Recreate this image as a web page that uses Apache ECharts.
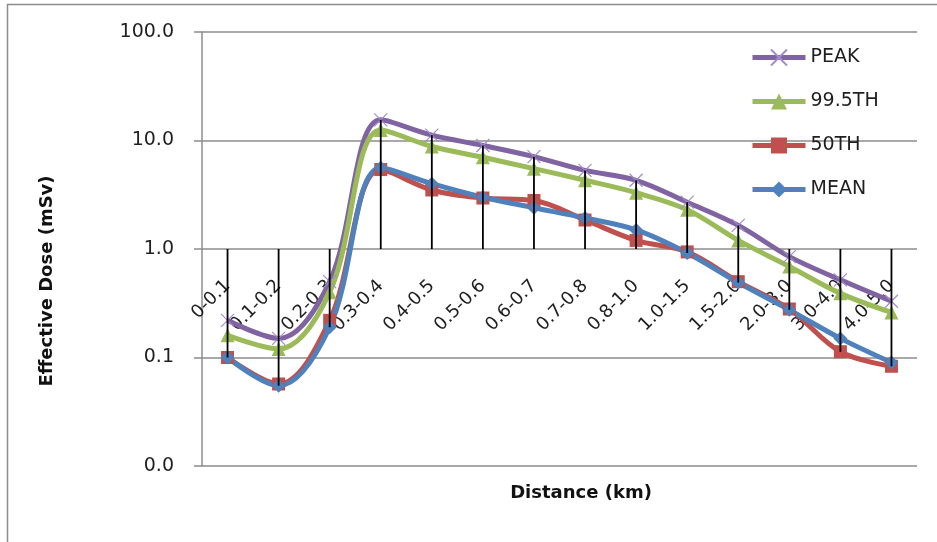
<!DOCTYPE html>
<html><head><meta charset="utf-8">
<script src="https://cdn.jsdelivr.net/npm/echarts@6/dist/echarts.min.js"></script>
<style>html,body{margin:0;padding:0;background:#fff}#c{width:937px;height:542px}</style>
</head><body><div id="c"></div>
<script>
const categories = ['0-0.1','0.1-0.2','0.2-0.3','0.3-0.4','0.4-0.5','0.5-0.6','0.6-0.7','0.7-0.8','0.8-1.0','1.0-1.5','1.5-2.0','2.0-3.0','3.0-4.0','4.0-5.0'];
const peak   = [0.22, 0.15, 0.50, 15.5, 11.2, 9.0, 7.1, 5.3, 4.3, 2.7, 1.65, 0.85, 0.52, 0.33];
const p995   = [0.16, 0.12, 0.40, 12.5, 8.8, 7.0, 5.5, 4.3, 3.3, 2.3, 1.2, 0.69, 0.39, 0.26];
const p50    = [0.10, 0.057, 0.22, 5.4, 3.5, 2.95, 2.8, 1.85, 1.2, 0.94, 0.50, 0.28, 0.113, 0.083];
const mean   = [0.10, 0.055, 0.19, 5.6, 4.0, 3.0, 2.4, 1.93, 1.5, 0.92, 0.49, 0.275, 0.15, 0.09];
const seriesNames = ['PEAK','99.5TH','50TH','MEAN'];
const axisCross = 1.0;

const dropData = categories.map((c, i) => {
  const vals = [peak[i], p995[i], p50[i], mean[i], axisCross];
  return [i, Math.min(...vals), Math.max(...vals)];
});

const FONT = 'DejaVu Sans';
const chart = echarts.init(document.getElementById('c'), null, {renderer: 'canvas'});
const smooth = 0.35;
chart.setOption({
  backgroundColor: '#fff',
  animation: false,
  textStyle: {fontFamily: FONT},
  grid: {left: 202, top: 32, width: 715, height: 434, outerBoundsMode: 'none', containLabel: false},
  legend: {
    orient: 'vertical', left: 745, top: 43, itemWidth: 53, itemHeight: 20, itemGap: 25,
    data: seriesNames,
    lineStyle: {width: 5},
    textStyle: {fontFamily: FONT, fontSize: 19, color: '#1f1f1f'}
  },
  xAxis: {
    type: 'category', data: categories, boundaryGap: true, position: 'bottom', offset: -217,
    axisLine: {show: false}, axisTick: {show: false},
    axisLabel: {interval: 0, rotate: 45, margin: 34, fontFamily: FONT, fontSize: 18, color: '#1f1f1f'},
    splitLine: {show: false}
  },
  yAxis: {
    type: 'log', logBase: 10, min: 0.01, max: 100,
    axisLine: {show: true, lineStyle: {color: '#8c8c8c', width: 1.5}},
    axisTick: {show: true, length: 8, lineStyle: {color: '#8c8c8c', width: 1.5}},
    axisLabel: {margin: 28, fontFamily: FONT, fontSize: 19, color: '#1f1f1f', formatter: v => Number(v).toFixed(1)},
    splitLine: {show: true, lineStyle: {color: '#8c8c8c', width: 1.5}}
  },
  graphic: [
    {type: 'rect', shape: {x: 7.5, y: 4.5, width: 1200, height: 1200}, style: {fill: 'none', stroke: '#8c8c8c', lineWidth: 1.5}, z: -10},
    {type: 'text', x: 47, y: 281, rotation: Math.PI / 2, style: {text: 'Effective Dose (mSv)', fontFamily: FONT, fontWeight: 'bold', fontSize: 18, fill: '#111', align: 'center', verticalAlign: 'middle'}},
    {type: 'text', x: 581, y: 493, style: {text: 'Distance (km)', fontFamily: FONT, fontWeight: 'bold', fontSize: 18, fill: '#111', align: 'center', verticalAlign: 'middle'}}
  ],
  series: [
    {name: 'PEAK', type: 'line', data: peak, smooth: smooth,
     symbol: 'path://M0,0L10,10M10,0L0,10', symbolSize: 13,
     itemStyle: {color: '#8064A2', borderColor: '#a48ccc', borderWidth: 1.2},
     lineStyle: {color: '#8064A2', width: 5}},
    {name: '99.5TH', type: 'line', data: p995, smooth: smooth,
     symbol: 'triangle', symbolSize: 14,
     itemStyle: {color: '#9BBB59'}, lineStyle: {color: '#9BBB59', width: 5}},
    {name: '50TH', type: 'line', data: p50, smooth: smooth,
     symbol: 'rect', symbolSize: 13,
     itemStyle: {color: '#C0504D'}, lineStyle: {color: '#C0504D', width: 5}},
    {name: 'MEAN', type: 'line', data: mean, smooth: smooth,
     symbol: 'diamond', symbolSize: 14,
     itemStyle: {color: '#4F81BD'}, lineStyle: {color: '#4F81BD', width: 5}},
    {name: 'drop', type: 'custom', data: dropData, z: 5, silent: true,
     encode: {x: 0, y: [1, 2]},
     renderItem: function (params, api) {
       const i = api.value(0);
       const a = api.coord([i, api.value(1)]);
       const b = api.coord([i, api.value(2)]);
       return {type: 'line', shape: {x1: a[0], y1: a[1], x2: b[0], y2: b[1]}, style: {stroke: '#000', lineWidth: 1.8}};
     }}
  ]
});
</script></body></html>
